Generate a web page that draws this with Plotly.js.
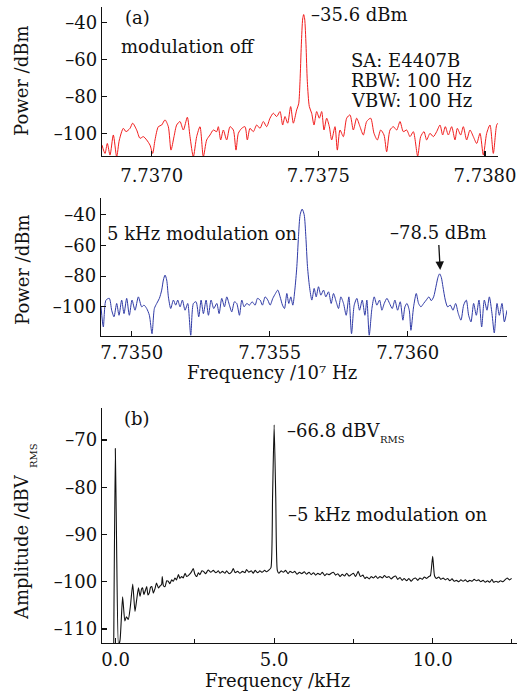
<!DOCTYPE html>
<html><head><meta charset="utf-8">
<script src="https://cdn.plot.ly/plotly-3.0.1.min.js"></script>
<style>html,body{margin:0;padding:0;background:#fff}#chart{width:523px;height:691px}</style>
</head><body><div id="chart"></div>
<script>
// (a) modulation off: frequency offset from 7.7370e7 Hz (Hz), power (dBm)
const offA = [-1490,-1400,-1330,-1250,-1150,-1050,-970,-850,-770,-650,
  -570,-450,-350,-250,-150,-50,30,100,200,300,
  400,500,580,670,750,850,950,1070,1150,1250,
  1350,1450,1550,1650,1750,1850,1950,2000,2070,2150,
  2250,2350,2450,2530,2600,2700,2800,2870,2950,3050,
  3150,3250,3350,3450,3550,3650,3750,3850,3930,4000,
  4080,4170,4250,4350,4410,4450,4490,4530,4560,4590,
  4630,4670,4730,4800,4870,4950,5030,5100,5170,5250,
  5330,5400,5500,5570,5650,5750,5850,5950,6050,6150,
  6250,6350,6450,6570,6670,6770,6870,6970,7050,7150,
  7250,7350,7450,7550,7650,7750,7850,7980,8070,8170,
  8250,8350,8450,8550,8650,8730,8810,8900,9000,9100,
  9170,9270,9350,9450,9550,9650,9750,9850,9950,10050,
  10150,10250,10350,10390];
const powA = [-106.4,-110.9,-105.5,-111.8,-100.9,-112.7,-103.6,-97.3,-99.1,-97.3,
  -94.5,-98.2,-102.7,-101.8,-103.6,-106.4,-110.9,-103.6,-96.4,-95.5,
  -92.7,-96.4,-109.1,-101.8,-95.5,-93.6,-98.2,-91.3,-101.8,-112.7,
  -101.8,-96.4,-112.7,-103.6,-100.9,-98.2,-99.1,-96.4,-103.6,-98.2,
  -103.6,-96.4,-98.2,-109.1,-100.0,-97.3,-96.4,-103.6,-97.3,-99.1,
  -95.5,-97.3,-93.6,-96.4,-91.8,-89.1,-90.9,-88.2,-95.5,-90.9,
  -94.5,-85.5,-94.5,-87.3,-84,-72,-52,-38,-35.6,-38,
  -52,-72,-85.5,-89.1,-95.5,-88.2,-91.8,-88.2,-98.2,-91.8,
  -96.4,-103.6,-96.4,-109.1,-98.2,-101.8,-91.8,-90.0,-98.2,-91.8,
  -96.4,-100.9,-93.6,-91.8,-100.0,-103.6,-98.2,-100.9,-110.0,-98.2,
  -96.4,-98.2,-93.6,-99.1,-98.2,-101.8,-99.1,-112.4,-101.8,-99.1,
  -103.6,-100.0,-101.8,-99.1,-95.5,-100.9,-96.4,-100.9,-96.4,-103.6,
  -97.3,-100.9,-96.4,-103.6,-98.2,-101.8,-105.5,-100.0,-111.8,-100.0,
  -95.5,-110.9,-95.5,-94.5];

// 5 kHz modulation on: frequency offset from 7.7350e7 Hz (Hz), power (dBm)
const offB = [-1112,-1028,-931,-810,-725,-641,-544,-459,-363,-278,
  -181,-85,12,121,242,363,447,544,641,737,
  822,907,1003,1088,1149,1209,1269,1330,1415,1511,
  1596,1668,1753,1838,1934,2031,2140,2237,2333,2430,
  2515,2599,2696,2781,2877,2974,3083,3168,3264,3361,
  3446,3542,3627,3724,3808,3905,3990,4074,4171,4268,
  4364,4473,4558,4655,4739,4836,4933,5017,5114,5211,
  5295,5380,5465,5537,5622,5694,5767,5839,5912,5985,
  6045,6105,6178,6251,6311,6371,6444,6529,6613,6686,
  6770,6855,6952,7036,7133,7230,7314,7411,7496,7580,
  7677,7774,7871,7967,8064,8161,8257,8354,8451,8523,
  8608,8705,8789,8886,8983,9068,9152,9249,9346,9442,
  9539,9636,9732,9829,9902,9974,10059,10119,10216,10313,
  10397,10482,10579,10675,10772,10857,10942,11038,11099,11159,
  11220,11280,11365,11449,11546,11643,11739,11836,11933,12030,
  12126,12211,12296,12392,12489,12586,12683,12779,12876,12961,
  13057,13140,13239,13323,13420,13505,13601];
const powB = [-100,-113.1,-95.6,-94.5,-102.2,-106.5,-97.8,-105.5,-95.6,-104.4,
  -94.5,-105.5,-95.6,-102.2,-93.5,-100,-98.9,-101.1,-105.5,-117.5,
  -101.1,-97.8,-94.5,-89.1,-82.5,-79.3,-82.5,-93.5,-101.1,-95.6,
  -98.9,-95.6,-100,-95.6,-102.2,-97.8,-118.5,-97.8,-96.7,-106.5,
  -95.6,-104.4,-95.6,-105.5,-95.6,-101.1,-97.8,-104.4,-94.5,-100,
  -93.5,-98.9,-103.3,-96.7,-97.8,-105.5,-95.6,-100,-97.8,-98.9,
  -96.7,-98.9,-94.5,-95.6,-98.9,-93.5,-95.6,-98.9,-94.5,-91.3,
  -89.1,-93.5,-98.9,-101.1,-91.3,-97.8,-93.5,-98.9,-89.1,-73.8,
  -54.2,-40,-36.3,-40,-54.2,-73.8,-86.9,-95.6,-88,-93.5,
  -86.9,-92.4,-89.1,-93.5,-90.2,-97.8,-91.3,-96.7,-101.1,-93.5,
  -97.8,-105.5,-93.5,-117.5,-98.9,-94.5,-102.2,-95.6,-105.5,-95.6,
  -118.5,-101.1,-93.5,-98.9,-95.6,-102.2,-97.8,-94.5,-97.8,-101.1,
  -95.6,-102.2,-96.7,-108.7,-100,-97.8,-102.2,-115.3,-100,-91.3,
  -97.8,-100,-97.8,-95.6,-93.5,-96,-93.5,-85.8,-80.8,-78.5,
  -80.8,-86.9,-95.6,-100,-98.9,-102.2,-97.8,-104.4,-108.7,-98.9,
  -95.6,-105.5,-109.8,-97.8,-105.5,-95.6,-113.1,-95.6,-102.2,-93.5,
  -104.4,-117,-97.8,-105.5,-97.8,-109.8,-102.2];

// (b) demodulated spectrum: frequency (kHz), amplitude (dBV RMS)
const freqC = [-0.06,-0.01,0.03,0.09,0.14,0.22,0.29,0.34,0.40,0.46,
  0.54,0.61,0.67,0.72,0.77,0.82,0.85,0.89,0.94,0.98,
  1.02,1.06,1.10,1.14,1.19,1.24,1.29,1.35,1.40,1.45,
  1.47,1.51,1.56,1.61,1.66,1.71,1.77,1.82,1.87,1.92,
  1.98,2.03,2.08,2.13,2.19,2.24,2.29,2.35,2.40,2.45,
  2.50,2.56,2.61,2.66,2.72,2.77,2.84,2.92,3.00,3.08,
  3.16,3.24,3.29,3.37,3.45,3.50,3.58,3.66,3.71,3.77,
  3.85,3.92,4.00,4.08,4.13,4.20,4.28,4.34,4.40,4.48,
  4.55,4.62,4.70,4.76,4.84,4.90,4.95,5.00,5.05,5.10,
  5.15,5.22,5.29,5.36,5.44,5.50,5.58,5.65,5.72,5.80,
  5.87,5.95,6.02,6.10,6.17,6.24,6.31,6.38,6.45,6.52,
  6.60,6.66,6.74,6.80,6.87,6.94,7.01,7.08,7.15,7.22,
  7.29,7.36,7.43,7.50,7.57,7.65,7.72,7.80,7.86,7.92,
  8.00,8.06,8.13,8.20,8.27,8.34,8.41,8.48,8.55,8.62,
  8.69,8.76,8.83,8.90,8.97,9.04,9.10,9.18,9.25,9.32,
  9.39,9.46,9.53,9.60,9.67,9.74,9.81,9.88,9.93,10.00,
  10.06,10.12,10.19,10.26,10.33,10.40,10.47,10.54,10.61,10.68,
  10.75,10.82,10.89,10.96,11.03,11.10,11.17,11.24,11.31,11.38,
  11.45,11.52,11.59,11.66,11.73,11.80,11.87,11.92,12.00,12.07,
  12.14,12.21,12.28,12.35,12.42,12.49];
const ampC = [-113.5,-71.8,-92,-113.5,-112.3,-103.2,-108.3,-107.4,-108.0,-105.5,
  -100.5,-106.3,-103.5,-101.3,-103.1,-101.5,-101.3,-102.7,-101.8,-101.0,
  -102.8,-102.4,-101.2,-101.0,-102.4,-101.5,-100.3,-101.3,-100.9,-100.6,
  -98.9,-100.9,-101.0,-99.8,-99.9,-100.4,-99.6,-99.9,-99.2,-99.6,
  -98.5,-99.3,-98.9,-99.2,-98.2,-98.9,-98.7,-98.3,-97.8,-97.2,
  -98.4,-98.9,-98.1,-98.5,-97.7,-97.8,-98.3,-97.5,-98.0,-97.6,
  -98.1,-97.7,-98.2,-97.8,-98.2,-97.7,-98.3,-97.9,-97.2,-98.1,
  -97.8,-98.2,-97.8,-98.1,-97.4,-98.0,-97.7,-98.2,-97.6,-98.1,
  -97.7,-98.0,-97.6,-97.9,-97.5,-97.0,-82,-66.8,-82,-97.6,
  -98.2,-97.7,-98.0,-97.6,-98.3,-97.8,-98.1,-97.8,-98.4,-98.0,
  -98.3,-97.9,-98.4,-98.0,-98.5,-98.1,-98.6,-98.2,-98.5,-98.0,
  -98.7,-98.3,-98.5,-98.2,-98.0,-98.6,-98.3,-98.9,-98.4,-98.8,
  -98.2,-98.8,-98.5,-98.2,-98.9,-97.8,-98.9,-98.6,-99.3,-99.0,
  -99.4,-98.9,-99.2,-98.8,-99.3,-98.9,-99.2,-98.7,-99.1,-98.9,
  -99.4,-99.0,-98.8,-99.5,-99.1,-99.7,-99.3,-99.8,-99.3,-99.9,
  -99.4,-99.2,-99.7,-99.2,-99.5,-99.0,-99.3,-98.9,-98.7,-94.6,
  -98.8,-99.3,-99.0,-99.5,-99.2,-99.6,-99.3,-99.8,-99.4,-99.9,
  -99.7,-100.0,-99.6,-99.9,-99.6,-100.0,-99.7,-99.9,-99.5,-99.8,
  -99.6,-100.0,-99.7,-100.1,-99.8,-100.1,-99.5,-100.1,-99.9,-100.1,
  -99.8,-100.0,-99.6,-99.2,-99.6,-99.3];

// tick labels
const tickValsAB = [0, 5000, 10000];
const tickTextA = ['7.7370', '7.7375', '7.7380'];
const tickTextB = ['7.7350', '7.7355', '7.7360'];
const tickValsC = [0, 5, 10];
const tickTextC = ['0.0', '5.0', '10.0'];
const minorValsC = [2.5, 7.5, 12.5];
const yTicksPow = [-40, -60, -80, -100];
const yTicksAmp = [-70, -80, -90, -100, -110];
const dash = v => v < 0 ? '\u2013' + Math.abs(v) : String(v);

const FONT = '"DejaVu Serif", "Liberation Serif", serif';
const TXT = '#111111';
const font = {family: FONT, size: 18, color: TXT};
const fontSub = {family: FONT, size: 10, color: TXT};

const W = 523, H = 691, ML = 101, MR = 6, MT = 7, MB = 48;
const PW = W - ML - MR, PH = H - MT - MB;
const px = x => (x - ML) / PW;
const py = y => 1 - (y - MT) / PH;

const axBase = {
  showline: true, linecolor: '#111', linewidth: 1.2,
  ticks: 'inside', ticklen: 5, tickwidth: 1.1, tickcolor: '#111',
  showgrid: false, zeroline: false, tickfont: font, fixedrange: true
};

const traces = [
  {x: offA, y: powA, xaxis: 'x', yaxis: 'y', type: 'scatter', mode: 'lines',
   line: {color: '#f21d1d', width: 1, shape: 'spline', smoothing: 0.7}, hoverinfo: 'skip'},
  {x: offB, y: powB, xaxis: 'x2', yaxis: 'y2', type: 'scatter', mode: 'lines',
   line: {color: '#2f3aa6', width: 1, shape: 'spline', smoothing: 0.7}, hoverinfo: 'skip'},
  {x: freqC, y: ampC, xaxis: 'x3', yaxis: 'y3', type: 'scatter', mode: 'lines',
   line: {color: '#111111', width: 1.1, shape: 'spline', smoothing: 0.5}, hoverinfo: 'skip'}
];

function label(text, x, y, opts) {
  return Object.assign({text, xref: 'paper', yref: 'paper', x: px(x), y: py(y),
    xanchor: 'left', yanchor: 'middle', showarrow: false, font}, opts || {});
}

const annotations = [
  label('(a)', 123, 17),
  label('\u201335.6 dBm', 309, 14),
  label('modulation off', 119, 47),
  label('SA: E4407B', 349, 60),
  label('RBW: 100 Hz', 349, 80),
  label('VBW: 100 Hz', 349, 100),
  label('5 kHz modulation on', 105, 233),
  {text: '\u201378.5 dBm', xref: 'x2', yref: 'y2', x: 11180, y: -76, ax: -2, ay: -37,
   xanchor: 'center', yanchor: 'middle', font,
   showarrow: true, arrowhead: 2, arrowsize: 1.3, arrowwidth: 1.3, arrowcolor: '#111', standoff: 0, startstandoff: 0},
  label('(b)', 122, 418),
  label('\u201366.8 dBV', 285, 430),
  label('RMS', 378, 439, {font: fontSub}),
  label('\u20135 kHz modulation on', 286, 514),
  label('Power /dBm', 22, 81, {xanchor: 'center', textangle: -90}),
  label('Power /dBm', 22, 270, {xanchor: 'center', textangle: -90}),
  label('Amplitude /dBV', 21, 547, {xanchor: 'center', textangle: -90}),
  label('RMS', 33, 456, {xanchor: 'center', textangle: -90, font: fontSub}),
  label('Frequency /10\u2077 Hz', 272, 372, {xanchor: 'center'}),
  label('Frequency /kHz', 277, 680, {xanchor: 'center'})
];

const layout = {
  width: W, height: H, margin: {l: ML, r: MR, t: MT, b: MB},
  paper_bgcolor: '#fff', plot_bgcolor: '#fff', showlegend: false, font,
  xaxis: Object.assign({}, axBase, {domain: [px(102), px(498)], anchor: 'y',
    range: [-1490, 10390], tickmode: 'array', tickvals: tickValsAB, ticktext: tickTextA, ticklabelstandoff: 3}),
  yaxis: Object.assign({}, axBase, {domain: [py(156), py(7)], anchor: 'x',
    range: [-112.3, -31.5], tickmode: 'array', tickvals: yTicksPow, ticktext: yTicksPow.map(dash)}),
  xaxis2: Object.assign({}, axBase, {domain: [px(101), px(507)], anchor: 'y2',
    range: [-1112, 13601], tickmode: 'array', tickvals: tickValsAB, ticktext: tickTextB}),
  yaxis2: Object.assign({}, axBase, {domain: [py(336), py(198)], anchor: 'x2',
    range: [-119, -29.1], tickmode: 'array', tickvals: yTicksPow, ticktext: yTicksPow.map(dash)}),
  xaxis3: Object.assign({}, axBase, {domain: [px(102), px(517)], anchor: 'y3',
    range: [-0.43, 12.66], tickmode: 'array', tickvals: tickValsC, ticktext: tickTextC,
    minor: {tickmode: 'array', tickvals: minorValsC, ticks: 'inside', ticklen: 4, tickwidth: 1.1, tickcolor: '#111', showgrid: false}}),
  yaxis3: Object.assign({}, axBase, {domain: [py(643), py(408)], anchor: 'x3',
    range: [-112.96, -63.24], tickmode: 'array', tickvals: yTicksAmp, ticktext: yTicksAmp.map(dash)}),
  annotations
};

Plotly.newPlot('chart', traces, layout, {staticPlot: true, displayModeBar: false});
</script>
</body></html>
